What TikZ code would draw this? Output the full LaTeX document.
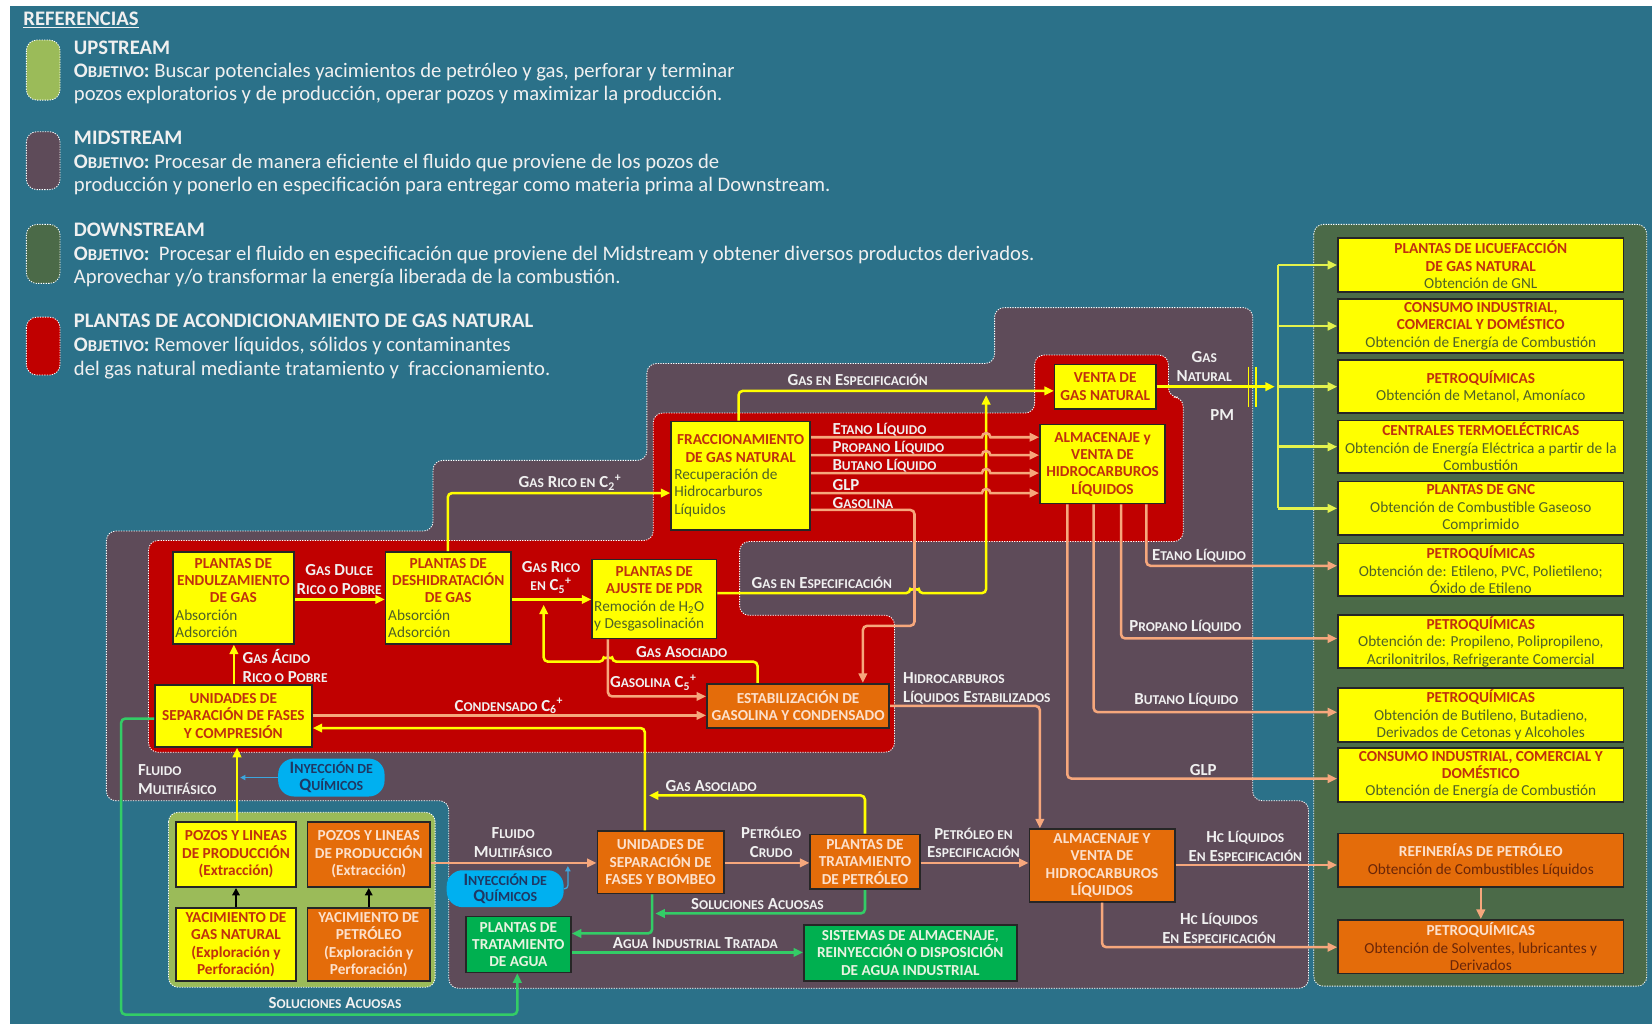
\documentclass[tikz,border=0pt]{standalone}
\usepackage{fontspec}
\setmainfont{Carlito}
\usetikzlibrary{arrows.meta}

\definecolor{bgteal}{HTML}{2B7189}
\definecolor{midc}{HTML}{5E4B59}
\definecolor{downc}{HTML}{4B6A48}
\definecolor{upc}{HTML}{9BBB59}
\definecolor{redc}{HTML}{C00000}
\definecolor{yelc}{HTML}{FFFF00}
\definecolor{orgc}{HTML}{E46C0A}
\definecolor{grnc}{HTML}{00B050}
\definecolor{ttlc}{HTML}{C0300E}
\definecolor{subc}{HTML}{4F6228}
\definecolor{otxt}{HTML}{FCE0CC}
\definecolor{odark}{HTML}{6B2608}
\definecolor{gtxt}{HTML}{E8F3E0}
\definecolor{lnY}{HTML}{FFFF00}
\definecolor{lnYG}{HTML}{E4F24C}
\definecolor{lnO}{HTML}{F6A77C}
\definecolor{lnG}{HTML}{33CC66}
\definecolor{lnB}{HTML}{3CA6DE}
\definecolor{lblc}{HTML}{F0F0F0}
\definecolor{elc}{HTML}{00B0F0}
\definecolor{eltxt}{HTML}{1F3864}

\makeatletter
% faux small capitals: letters set at four fifths of the current size
\newcommand\smc[1]{{\fontsize{\dimexpr\f@size pt*4/5\relax}{\z@}\selectfont #1}}
\makeatother
% carbon number with subscript and a plus sign after it
\newcommand\cn[1]{C\textsubscript{#1}\textsuperscript{+}}
\newcommand\subt[1]{{\color{subc}\mdseries #1}}
\newcommand\odk[1]{{\color{odark}\mdseries #1}}
\newcommand\lft[2]{\makebox[#1pt][l]{\subt{#2}}}
% box from its two corners: name, x1, y1, x2, y2, style, text
\newcommand\bx[7]{\node[#6, minimum width={#4-#2}, minimum height={#5-#3}] (#1) at ({(#2+#4)/2},{(#3+#5)/2}) {#7};}

\tikzset{
  region/.style={draw=white, dash pattern=on 1.2pt off 1.2pt, line width=0.8pt, rounded corners=9pt},
  boxbase/.style={draw=black!85, line width=1.6pt, align=center, inner sep=0pt,
    font=\fontsize{14.5}{16.5}\selectfont\bfseries},
  ybox/.style={boxbase, fill=yelc, text=ttlc},
  obox/.style={boxbase, fill=orgc, text=otxt},
  gbox/.style={boxbase, fill=grnc, text=gtxt},
  inyst/.style={fill=elc, rounded corners=15pt, align=center, inner sep=0pt, text=eltxt,
    font=\fontsize{16.5}{16}\selectfont\bfseries},
  lbl/.style={text=lblc, align=center, inner sep=0pt, font=\fontsize{16}{18}\selectfont\bfseries},
  legT/.style={anchor=base west, inner sep=0pt, text=lblc, font=\fontsize{19.6}{21}\selectfont\bfseries},
  legB/.style={anchor=base west, inner sep=0pt, text=lblc, font=\fontsize{19.6}{21}\selectfont},
  conn/.style={line width=2.4pt, rounded corners=4pt},
  arr/.style={-{Triangle[length=9pt,width=8pt]}},
  cY/.style={conn, draw=lnY},
  cYG/.style={conn, draw=lnYG},
  cO/.style={conn, draw=lnO},
  cG/.style={conn, draw=lnG},
  cB/.style={line width=1.2pt, draw=lnB, -{Triangle[length=5pt,width=5pt]}},
  cK/.style={line width=2pt, draw=black, -{Triangle[length=7pt,width=7pt]}},
}

\begin{document}
\begin{tikzpicture}[x=1pt,y=-1pt]
% page and background
\fill[white] (0,0) rectangle (1568,972);
\fill[bgteal] (9.5,6) rectangle (1568,972);
\useasboundingbox (0,0) rectangle (1568,972);

% ---------- legend ----------
\node[anchor=base west, inner sep=0pt, text=lblc, font=\fontsize{19.6}{21}\selectfont\bfseries] (refs) at (22,24) {\underline{REFERENCIAS}};
\draw[region, fill=upc, rounded corners=10pt] (25,38) rectangle (57,95);
\draw[region, fill=midc, rounded corners=10pt] (25,125) rectangle (57,180);
\draw[region, fill=downc, rounded corners=10pt] (25,213) rectangle (57,269);
\draw[region, fill=redc, rounded corners=10pt] (25,301) rectangle (57,356);

\node[legT] (upT) at (70,52) {UPSTREAM};
\node[legB] (up1) at (70,74) {\textbf{O\smc{BJETIVO}:} Buscar potenciales yacimientos de petróleo y gas, perforar y terminar};
\node[legB] (up2) at (70,95) {pozos exploratorios y de producción, operar pozos y maximizar la producción.};
\node[legT] (midT) at (70,137) {MIDSTREAM};
\node[legB] (mid1) at (70,160) {\textbf{O\smc{BJETIVO}:} Procesar de manera eficiente el fluido que proviene de los pozos de};
\node[legB] (mid2) at (70,182) {producción y ponerlo en especificación para entregar como materia prima al Downstream.};
\node[legT] (dwT) at (70,224) {DOWNSTREAM};
\node[legB] (dw1) at (70,247) {\textbf{O\smc{BJETIVO}:}\ \ Procesar el fluido en especificación que proviene del Midstream y obtener diversos productos derivados.};
\node[legB] (dw2) at (70,269) {Aprovechar y/o transformar la energía liberada de la combustión.};
\node[legT] (plT) at (70,311) {PLANTAS DE ACONDICIONAMIENTO DE GAS NATURAL};
\node[legB] (pl1) at (70,334) {\textbf{O\smc{BJETIVO}:} Remover líquidos, sólidos y contaminantes};
\node[legB] (pl2) at (70,356) {del gas natural mediante tratamiento y\ \ fraccionamiento.};

% ---------- regions ----------
\draw[region, fill=midc] (101,504) -- (411,504) -- (411,437) -- (614,437) -- (614,345) -- (944,345)
  -- (944,292) -- (1189,292) -- (1189,760) -- (1242,760) -- (1242,938) -- (426,938) -- (426,760)
  -- (101,760) -- cycle;
\draw[region, fill=redc] (141,513) -- (620,513) -- (620,392) -- (982,392) -- (982,337) -- (1109,337)
  -- (1109,377) -- (1123,377) -- (1123,514) -- (702,514) -- (702,584) -- (849,584) -- (849,714)
  -- (141,714) -- cycle;
\draw[region, fill=upc] (160,771) rectangle (413,937);
\draw[region, fill=downc] (1247,213) rectangle (1563,936);

% ---------- downstream boxes ----------
\bx{d1}{1270}{226}{1541}{277}{ybox}{PLANTAS DE LICUEFACCIÓN\\DE GAS NATURAL\\\subt{Obtención de GNL}}
\bx{d2}{1270}{284}{1541}{335}{ybox}{CONSUMO INDUSTRIAL,\\COMERCIAL Y DOMÉSTICO\\\subt{Obtención de Energía de Combustión}}
\bx{d3}{1270}{342}{1541}{392}{ybox}{PETROQUÍMICAS\\\subt{Obtención de Metanol, Amoníaco}}
\bx{d4}{1270}{399}{1541}{449}{ybox}{CENTRALES TERMOELÉCTRICAS\\\subt{Obtención de Energía Eléctrica a partir de la}\\\subt{Combustión}}
\bx{d5}{1270}{457}{1541}{508}{ybox}{PLANTAS DE GNC\\\subt{Obtención de Combustible Gaseoso}\\\subt{Comprimido}}
\bx{d6}{1270}{516}{1541}{566}{ybox}{PETROQUÍMICAS\\\subt{Obtención de: Etileno, PVC, Polietileno;}\\\subt{Óxido de Etileno}}
\bx{d7}{1270}{584}{1541}{634}{ybox}{PETROQUÍMICAS\\\subt{Obtención de: Propileno, Polipropileno,}\\\subt{Acrilonitrilos, Refrigerante Comercial}}
\bx{d8}{1270}{653}{1541}{704}{ybox}{PETROQUÍMICAS\\\subt{Obtención de Butileno, Butadieno,}\\\subt{Derivados de Cetonas y Alcoholes}}
\bx{d9}{1270}{710}{1541}{761}{ybox}{CONSUMO INDUSTRIAL, COMERCIAL Y\\DOMÉSTICO\\\subt{Obtención de Energía de Combustión}}
\bx{d10}{1270}{791}{1541}{842}{obox}{REFINERÍAS DE PETRÓLEO\\\odk{Obtención de Combustibles Líquidos}}
\bx{d11}{1270}{873}{1541}{924}{obox}{PETROQUÍMICAS\\\odk{Obtención de Solventes, lubricantes y}\\\odk{Derivados}}

% ---------- gas conditioning plants ----------
\bx{fracc}{637}{400}{769}{503}{ybox}{FRACCIONAMIENTO\\DE GAS NATURAL\\\lft{126}{Recuperación de}\\\lft{126}{Hidrocarburos}\\\lft{126}{Líquidos}}
\bx{almY}{987}{403}{1106}{478}{ybox}{ALMACENAJE y\\VENTA DE\\HIDROCARBUROS\\LÍQUIDOS}
\bx{venta}{1001}{346}{1097}{388}{ybox}{VENTA DE\\GAS NATURAL}
\bx{endulz}{164}{524}{279}{611}{ybox}{PLANTAS DE\\ENDULZAMIENTO\\DE GAS\\\lft{110}{Absorción}\\\lft{110}{Adsorción}}
\bx{deshid}{366}{524}{485}{611}{ybox}{PLANTAS DE\\DESHIDRATACIÓN\\DE GAS\\\lft{114}{Absorción}\\\lft{114}{Adsorción}}
\bx{pdr}{562}{531}{680}{606}{ybox}{PLANTAS DE\\AJUSTE DE PDR\\\lft{114}{Remoción de H\textsubscript{2}O}\\\lft{114}{y Desgasolinación}}
\bx{sepc}{147}{650}{296}{709}{ybox}{UNIDADES DE\\SEPARACIÓN DE FASES\\Y COMPRESIÓN}
\bx{estab}{671}{649}{844}{691}{obox}{ESTABILIZACIÓN DE\\GASOLINA Y CONDENSADO}

% ---------- upstream ----------
\bx{pozY}{167}{780}{281}{842}{ybox}{POZOS Y LINEAS\\DE PRODUCCIÓN\\(Extracción)}
\bx{pozO}{292}{780}{408}{842}{obox}{POZOS Y LINEAS\\DE PRODUCCIÓN\\(Extracción)}
\bx{yacY}{167}{862}{281}{931}{ybox}{YACIMIENTO DE\\GAS NATURAL\\(Exploración y\\Perforación)}
\bx{yacO}{292}{862}{408}{931}{obox}{YACIMIENTO DE\\PETRÓLEO\\(Exploración y\\Perforación)}

% ---------- oil and water handling ----------
\bx{sepb}{567}{789}{687}{848}{obox}{UNIDADES DE\\SEPARACIÓN DE\\FASES Y BOMBEO}
\bx{trat}{769}{792}{873}{844}{obox}{PLANTAS DE\\TRATAMIENTO\\DE PETRÓLEO}
\bx{almO}{977}{787}{1115}{856}{obox}{ALMACENAJE Y\\VENTA DE\\HIDROCARBUROS\\LÍQUIDOS}
\bx{agua}{442}{870}{542}{923}{gbox}{PLANTAS DE\\TRATAMIENTO\\DE AGUA}
\bx{sist}{763}{878}{965}{931}{gbox}{SISTEMAS DE ALMACENAJE,\\REINYECCIÓN O DISPOSICIÓN\\DE AGUA INDUSTRIAL}
\bx{iny1}{264}{720}{365}{756}{inyst}{I\smc{NYECCIÓN DE}\\Q\smc{UÍMICOS}}
\bx{iny2}{424}{826}{535}{861}{inyst}{I\smc{NYECCIÓN DE}\\Q\smc{UÍMICOS}}

% ---------- natural gas sales and distribution ----------
\draw[cY, arr] (venta.east) -- (1210,0 |- venta.east);
\draw[draw=lnY, line width=1.6pt] (1185,348) -- (1185,386) (1192,348) -- (1192,386);
\draw[draw=lnYG, line width=2.4pt] (1213,0 |- d1.west) -- (1213,0 |- d5.west);
\foreach \n in {d1,d2,d3,d4,d5} \draw[cYG, arr] (1213,0 |- \n.west) -- (\n.west);
\node[lbl] (lgn) at (1143,348) {G\smc{AS}\\N\smc{ATURAL}};
\node[lbl] (lpm) at (1160,394) {PM};

% specification gas
\draw[cY, arr] (701,0 |- fracc.north) -- (701,371) -- (venta.west |- 0,371);
\node[lbl] (lge1) at (814,361) {G\smc{AS EN} E\smc{SPECIFICACIÓN}};
\draw[cY, arr] (pdr.east |- 0,563) -- (864,563) arc[start angle=180, end angle=0, radius=4pt] -- (936,563) -- (936,375);
\node[lbl] (lge2) at (780,553) {G\smc{AS EN} E\smc{SPECIFICACIÓN}};

% fractionation products
\foreach \yy in {415,432,449,468}
  \draw[line width=2.4pt, draw=lnO, arr] (fracc.east |- 0,\yy) -- (932,\yy) arc[start angle=180, end angle=0, radius=4pt] -- (almY.west |- 0,\yy);
\node[lbl, anchor=west] (lf1) at (790,408) {E\smc{TANO} L\smc{ÍQUIDO}};
\node[lbl, anchor=west] (lf2) at (790,425) {P\smc{ROPANO} L\smc{ÍQUIDO}};
\node[lbl, anchor=west] (lf3) at (790,442) {B\smc{UTANO} L\smc{ÍQUIDO}};
\node[lbl, anchor=west] (lf4) at (790,460) {GLP};
\node[lbl, anchor=west] (lf5) at (790,477) {G\smc{ASOLINA}};
\draw[cO, arr] (fracc.east |- 0,484) -- (868,484) -- (868,594) -- (819,594) -- (819,0 |- estab.north);

% gas treatment train
\draw[cY, arr] (425,0 |- deshid.north) -- (425,468) -- (fracc.west |- 0,468);
\node[lbl] (lgr2) at (541,458) {G\smc{AS} R\smc{ICO EN} \cn{2}};
\draw[cY, arr] (endulz.east |- 0,569) -- (deshid.west |- 0,569);
\node[lbl] (lgd) at (322,550) {G\smc{AS} D\smc{ULCE}\\R\smc{ICO O} P\smc{OBRE}};
\draw[cY, arr] (deshid.east |- 0,569) -- (pdr.west |- 0,569);
\node[lbl] (lgr5) at (523,548) {G\smc{AS} R\smc{ICO}\\\smc{EN} \cn{5}};
\draw[cY, arr] (222,0 |- sepc.north) -- (222,0 |- endulz.south);
\node[lbl, anchor=west, align=left] (lga) at (230,632) {G\smc{AS} Á\smc{CIDO}\\R\smc{ICO O} P\smc{OBRE}};
\draw[cY, arr] (719,0 |- estab.north) -- (719,628) -- (581,628) arc[start angle=0, end angle=180, radius=4pt] -- (516,628) -- (516,574);
\node[lbl] (lgas1) at (647,619) {G\smc{AS} A\smc{SOCIADO}};
\draw[cO, arr] (577,0 |- pdr.south) -- (577,661) -- (estab.west |- 0,661);
\node[lbl] (lgas5) at (620,648) {G\smc{ASOLINA} \cn{5}};
\draw[cO, arr] (sepc.east |- 0,679) -- (estab.west |- 0,679);
\node[lbl] (lcond) at (483,670) {C\smc{ONDENSADO} \cn{6}};
\draw[cY, arr] (612,0 |- sepb.north) -- (612,691) -- (sepc.east |- 0,691);
\draw[cY, arr] (821,0 |- trat.north) -- (821,755) -- (616,755);
\node[lbl] (lgas2) at (675,746) {G\smc{AS} A\smc{SOCIADO}};
\draw[cO, arr] (estab.east |- 0,670) -- (987,670) -- (987,0 |- almO.north);
\node[lbl, anchor=west, align=left] (lhid) at (857,653) {H\smc{IDROCARBUROS}\\L\smc{ÍQUIDOS} E\smc{STABILIZADOS}};

% liquid products to petrochemicals and consumers
\draw[cO, arr] (1088,0 |- almY.south) -- (1088,537) -- (d6.west |- 0,537);
\draw[cO, arr] (1064,0 |- almY.south) -- (1064,606) -- (d7.west |- 0,606);
\draw[cO, arr] (1038,0 |- almY.south) -- (1038,676) -- (d8.west |- 0,676);
\draw[cO, arr] (1013,0 |- almY.south) -- (1013,739) -- (d9.west |- 0,739);
\node[lbl] (le) at (1138,527) {E\smc{TANO} L\smc{ÍQUIDO}};
\node[lbl] (lp) at (1125,595) {P\smc{ROPANO} L\smc{ÍQUIDO}};
\node[lbl] (lb) at (1126,664) {B\smc{UTANO} L\smc{ÍQUIDO}};
\node[lbl] (lglp) at (1142,731) {GLP};

% wells to gas conditioning
\draw[cY, arr] (225,0 |- pozY.north) -- (225,0 |- sepc.south);
\node[lbl, anchor=west, align=left] (lfm1) at (131,740) {F\smc{LUIDO}\\M\smc{ULTIFÁSICO}};
\draw[cB] (iny1.west) -- (228,0 |- iny1.west);
\draw[cG, arr] (sepc.west |- 0,682) -- (115,682) -- (115,963) -- (491,963) -- (491,0 |- agua.south);
\node[lbl] (lsol1) at (318,952) {S\smc{OLUCIONES} A\smc{CUOSAS}};
\draw[cK] (yacY.north) -- (pozY.south);
\draw[cK] (yacO.north) -- (pozO.south);

% crude oil chain
\draw[cO, arr] (pozO.east |- 0,819) -- (sepb.west |- 0,819);
\node[lbl] (lfm2) at (487,800) {F\smc{LUIDO}\\M\smc{ULTIFÁSICO}};
\draw[cB, rounded corners=3pt] (iny2.east) -- (539,0 |- iny2.east) -- (539,822);
\draw[cO, arr] (sepb.east |- 0,819) -- (trat.west |- 0,819);
\node[lbl] (lpc) at (732,800) {P\smc{ETRÓLEO}\\C\smc{RUDO}};
\draw[cO, arr] (trat.east |- 0,819) -- (almO.west |- 0,819);
\node[lbl] (lpe) at (924,800) {P\smc{ETRÓLEO EN}\\E\smc{SPECIFICACIÓN}};
\draw[cO, arr] (almO.east |- 0,821) -- (d10.west |- 0,821);
\node[lbl] (lhc1) at (1182,803) {H\smc{C} L\smc{ÍQUIDOS}\\E\smc{N} E\smc{SPECIFICACIÓN}};
\draw[cO, arr] (1046,0 |- almO.south) -- (1046,899) -- (d11.west |- 0,899);
\node[lbl] (lhc2) at (1157,881) {H\smc{C} L\smc{ÍQUIDOS}\\E\smc{N} E\smc{SPECIFICACIÓN}};
\draw[cO, arr] (d10.south) -- (d11.north);

% produced water
\draw[cG, arr] (821,0 |- trat.south) -- (821,867) -- (622,867);
\node[lbl] (lsol2) at (719,858) {S\smc{OLUCIONES} A\smc{CUOSAS}};
\draw[cG, arr] (619,0 |- sepb.south) -- (619,886) -- (agua.east |- 0,886);
\draw[cG, arr] (agua.east |- 0,904) -- (sist.west |- 0,904);
\node[lbl] (lagua) at (660,895) {A\smc{GUA} I\smc{NDUSTRIAL} T\smc{RATADA}};
\end{tikzpicture}
\end{document}
